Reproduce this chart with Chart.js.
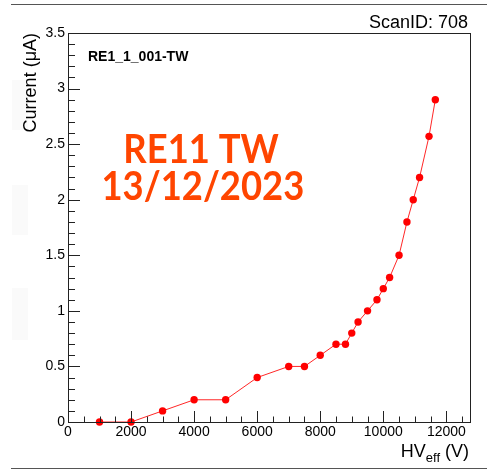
<!DOCTYPE html>
<html>
<head>
<meta charset="utf-8">
<script src="https://cdn.jsdelivr.net/npm/chart.js@4.4.1/dist/chart.umd.min.js"></script>
<style>
  body { margin: 0; background: #fff; }
  #wrap { position: relative; width: 487px; height: 471px; }
</style>
</head>
<body>
<div id="wrap"><canvas id="myChart" width="487" height="471"></canvas></div>
<script>
// HV scan of RE1_1_001-TW
const hvValues = [1000, 2000, 3000, 4000, 5000, 6000, 7000, 7500, 8000, 8500, 8800,
                  9000, 9200, 9500, 9800, 10000, 10200, 10500, 10750, 10950, 11150, 11450, 11650];
const currentValues = [0, 0, 0.1, 0.2, 0.2, 0.4, 0.5, 0.5, 0.6, 0.7, 0.7,
                       0.8, 0.9, 1.0, 1.1, 1.2, 1.3, 1.5, 1.8, 2.0, 2.2, 2.57, 2.9];
const xTicks = [0, 2000, 4000, 6000, 8000, 10000, 12000];
const yTicks = [0, 0.5, 1, 1.5, 2, 2.5, 3, 3.5];

const FONT = "'Liberation Sans', Arial, Helvetica, sans-serif";

// ROOT style: frame, ticks pointing inward, labels and titles
const rootFrame = {
    id: 'rootFrame',
    beforeDraw(chart) {
        const c = chart.ctx;
        c.save();
        // faint ghost blocks on the left edge of the original canvas
        c.fillStyle = '#fafafa';
        c.fillRect(12, 80, 16, 50);
        c.fillRect(12, 185, 16, 50);
        c.fillRect(12, 288, 16, 52);
        // outer pad lines
        c.strokeStyle = '#555';
        c.lineWidth = 1;
        c.beginPath();
        c.moveTo(11, 4.5); c.lineTo(487, 4.5);
        c.moveTo(11, 468.5); c.lineTo(487, 468.5);
        c.stroke();
        c.restore();
    },
    afterDraw(chart) {
        const c = chart.ctx;
        const a = chart.chartArea;
        const xs = chart.scales.x, ys = chart.scales.y;
        c.save();
        c.strokeStyle = '#222';
        c.lineWidth = 1;
        c.strokeRect(Math.round(a.left) + 0.5, Math.round(a.top) + 0.5,
                     Math.round(a.right - a.left), Math.round(a.bottom - a.top));
        c.beginPath();
        for (let i = 0; i <= 35; i++) {
            const py = Math.round(ys.getPixelForValue(i / 10)) + 0.5;
            const len = (i % 5 === 0) ? 12 : 7;
            c.moveTo(a.left, py); c.lineTo(a.left + len, py);
        }
        for (let v = 0; v <= 12500; v += 500) {
            const px = Math.round(xs.getPixelForValue(v)) + 0.5;
            const len = (v % 2000 === 0) ? 11 : 5.5;
            c.moveTo(px, a.bottom); c.lineTo(px, a.bottom - len);
        }
        c.stroke();

        c.fillStyle = '#000';
        c.textBaseline = 'alphabetic';
        // scan id
        c.font = '18px ' + FONT;
        c.textAlign = 'right';
        c.fillText('ScanID: 708', 468, 28);
        // chamber name
        c.font = 'bold 14px ' + FONT;
        c.textAlign = 'left';
        c.fillText('RE1_1_001-TW', 88, 61);
        // x title with subscript
        c.font = '18px ' + FONT;
        c.textAlign = 'right';
        const tail = ' (V)';
        c.fillText(tail, 469, 457);
        let w = c.measureText(tail).width;
        c.font = '13px ' + FONT;
        c.fillText('eff', 469 - w, 462);
        w += c.measureText('eff').width;
        c.font = '18px ' + FONT;
        c.fillText('HV', 469 - w, 457);
        // y title
        c.save();
        c.translate(36, 33);
        c.rotate(-Math.PI / 2);
        c.textAlign = 'right';
        c.fillText('Current (\u03bcA)', 0, 0);
        c.restore();
        // big annotation
        c.fillStyle = '#ff4500';
        c.font = 'bold 40px Lato, sans-serif';
        c.textAlign = 'center';
        c.save();
        c.translate(202, 0);
        c.scale(0.91, 1);
        c.fillText('RE11 TW', -1, 163);
        c.fillText('13/12/2023', 1, 200);
        c.restore();
        c.restore();
    }
};

const graphData = {
    type: 'scatter',
    data: {
        datasets: [{
            label: 'RE1_1_001-TW',
            data: hvValues.map((v, i) => ({x: v, y: currentValues[i]})),
            showLine: true,
            clip: false,
            borderColor: 'rgba(255, 0, 0, 0.85)',
            borderWidth: 1,
            backgroundColor: '#ff0000',
            pointBackgroundColor: '#ff0000',
            pointBorderWidth: 0,
            pointRadius: 3.7,
            tension: 0
        }]
    },
    options: {
        responsive: false,
        animation: false,
        layout: { padding: { top: 33, right: 17, bottom: 0, left: 0 } },
        plugins: { legend: { display: false }, tooltip: { enabled: false } },
        scales: {
            x: {
                type: 'linear', min: 0, max: 12750,
                afterBuildTicks: s => { s.ticks = xTicks.map(v => ({value: v})); },
                afterFit: s => { s.height = 49; },
                grid: { display: false, drawTicks: false },
                border: { display: false },
                ticks: { color: '#000', font: { family: FONT, size: 14 }, padding: 2,
                         maxRotation: 0, autoSkip: false, callback: v => String(v) }
            },
            y: {
                type: 'linear', min: 0, max: 3.5,
                afterBuildTicks: s => { s.ticks = yTicks.map(v => ({value: v})); },
                afterFit: s => { s.width = 68; },
                grid: { display: false, drawTicks: false },
                border: { display: false },
                ticks: { color: '#000', font: { family: FONT, size: 14 }, padding: 3,
                         autoSkip: false, callback: v => String(v) }
            }
        }
    },
    plugins: [rootFrame]
};

const ctx = document.getElementById('myChart').getContext('2d');
const myChart = new Chart(ctx, graphData);
</script>
</body>
</html>
